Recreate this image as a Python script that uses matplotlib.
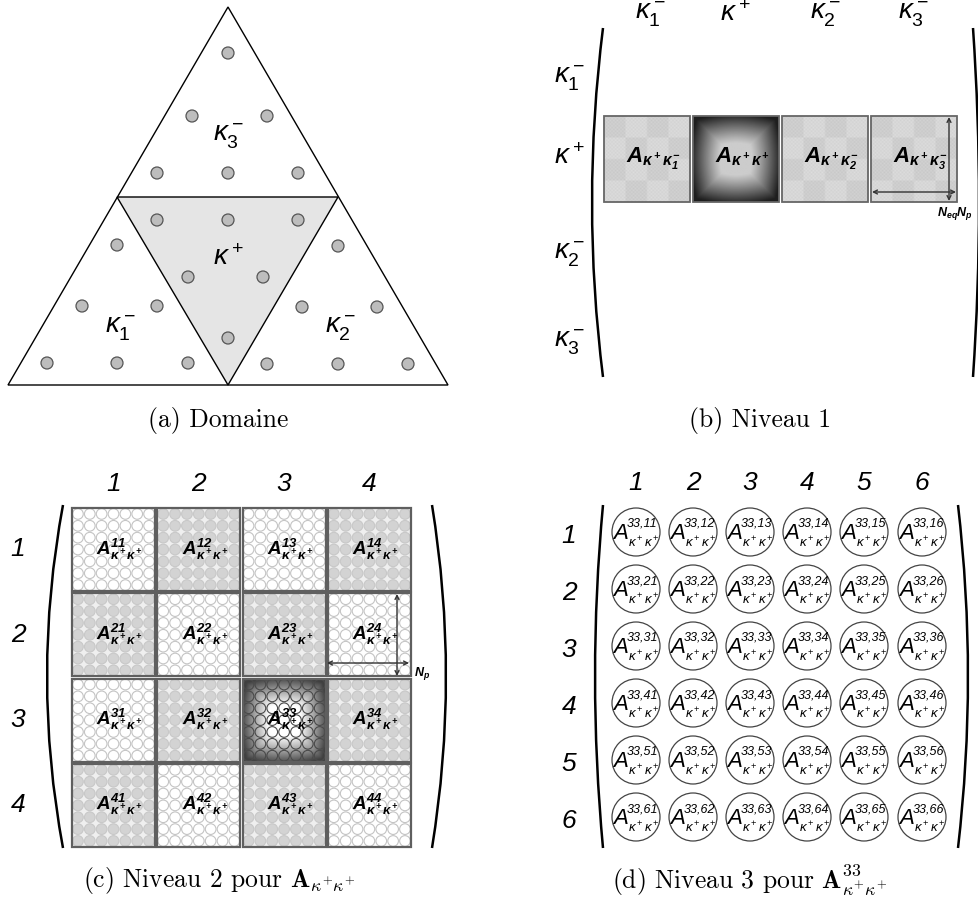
import numpy as np
import matplotlib
matplotlib.use("Agg")
import matplotlib.pyplot as plt
from matplotlib.patches import Polygon, Circle, Rectangle, PathPatch
from matplotlib.path import Path

# --- content -------------------------------------------------------------
DOMAIN_LABELS = [r"$\kappa_3^-$", r"$\kappa^+$", r"$\kappa_1^-$", r"$\kappa_2^-$"]
LEVEL1_NAMES = [r"$\kappa_1^-$", r"$\kappa^+$", r"$\kappa_2^-$", r"$\kappa_3^-$"]
LEVEL1_BLOCKS = [r"$\mathbf{A_{\kappa^+\kappa_1^-}}$", r"$\mathbf{A_{\kappa^+\kappa^+}}$",
                 r"$\mathbf{A_{\kappa^+\kappa_2^-}}$", r"$\mathbf{A_{\kappa^+\kappa_3^-}}$"]
LEVEL1_SHADES = ["check", "dark", "check", "check"]
LEVEL2_IDX = ["1", "2", "3", "4"]
LEVEL2_SHADES = [["white", "gray", "white", "gray"],
                 ["gray", "white", "gray", "white"],
                 ["white", "gray", "dark", "gray"],
                 ["gray", "white", "gray", "white"]]
LEVEL3_IDX = ["1", "2", "3", "4", "5", "6"]
CAPTIONS = ["(a) Domaine", "(b) Niveau 1",
            r"(c) Niveau 2 pour $\mathbf{A}_{\kappa^{+}\kappa^{+}}$",
            r"(d) Niveau 3 pour $\mathbf{A}^{33}_{\kappa^{+}\kappa^{+}}$"]

plt.rcParams["font.family"] = ["Liberation Sans", "DejaVu Sans"]
plt.rcParams["mathtext.fontset"] = "custom"
plt.rcParams["mathtext.rm"] = "Liberation Sans"
plt.rcParams["mathtext.it"] = "Liberation Sans:italic"
plt.rcParams["mathtext.bf"] = "Liberation Sans:italic:bold"

W, H = 979, 911
fig = plt.figure(figsize=(W / 100, H / 100), dpi=100)
ax = fig.add_axes([0, 0, 1, 1])
ax.set_xlim(0, W)
ax.set_ylim(H, 0)
ax.axis("off")


def bracket(x_end, x_mid, y0, y1):
    ctrl = 2 * x_mid - x_end
    path = Path([(x_end, y0), (ctrl, (y0 + y1) / 2), (x_end, y1)],
                [Path.MOVETO, Path.CURVE3, Path.CURVE3])
    ax.add_patch(PathPatch(path, fc="none", ec="black", lw=1.8, clip_on=False))


def dbl_arrow(p0, p1):
    ax.annotate("", xy=p1, xytext=p0,
                arrowprops=dict(arrowstyle="<->", color="#333333", lw=1.0,
                                shrinkA=0, shrinkB=0, mutation_scale=7))


def dark_texture(n, lo, hi):
    u = np.linspace(-1, 1, n)
    xx, yy = np.meshgrid(u, u)
    d = 0.6 * np.maximum(np.abs(xx), np.abs(yy)) + 0.4 * np.hypot(xx, yy) / np.sqrt(2) * 1.2
    return hi - (hi - lo) * np.clip((d - 0.35) / 0.65, 0, 1) ** 1.1


def check_texture(n):
    i, j = np.indices((n, n))
    return 0.78 + 0.04 * ((i // (n // 4) + j // (n // 4)) % 2) + 0.05 * ((i + j) % 2)


# --- (a) domain ----------------------------------------------------------
A0, B0, C0 = (8, 385), (448, 385), (228, 7)
M1, M2, M3 = (117, 197), (338, 197), (228, 385)
ax.add_patch(Polygon([A0, B0, C0], closed=True, fc="white", ec="black", lw=1.0))
ax.add_patch(Polygon([M1, M2, M3], closed=True, fc="#e5e5e5", ec="black", lw=1.0))
dots = [(228, 53), (192, 116), (267, 116), (157, 173), (228, 173), (298, 173),
        (157, 220), (228, 220), (298, 220), (188, 277), (263, 277), (228, 338),
        (117, 245), (82, 306), (157, 306), (47, 363), (117, 363), (188, 363),
        (338, 246), (302, 307), (377, 307), (267, 364), (338, 364), (408, 364)]
for (x, y) in dots:
    ax.add_patch(Circle((x, y), 6, fc="#bdbdbd", ec="#555555", lw=0.9))
for lab, (x, y) in zip(DOMAIN_LABELS, [(228, 136), (228, 258), (120, 327), (340, 327)]):
    ax.text(x, y, lab, fontsize=20, ha="center", va="center")

# --- (b) level 1 ---------------------------------------------------------
for lab, x in zip(LEVEL1_NAMES, [650, 735, 825, 913]):
    ax.text(x, 14, lab, fontsize=20, ha="center", va="center")
for lab, y in zip(LEVEL1_NAMES, [77, 157, 253, 342]):
    ax.text(569, y, lab, fontsize=20, ha="center", va="center")
bracket(603, 592, 28, 377)
bracket(973, 979, 28, 377)
bx = [604, 693, 782, 871]
for x0, lab, shade in zip(bx, LEVEL1_BLOCKS, LEVEL1_SHADES):
    img = dark_texture(80, 0.12, 0.80) if shade == "dark" else check_texture(48)
    ax.imshow(img, cmap="gray", vmin=0, vmax=1, extent=(x0, x0 + 86, 202, 116),
              interpolation="bilinear", zorder=1)
    ax.add_patch(Rectangle((x0, 116), 86, 86, fc="none", ec="#666666", lw=1.3, zorder=2))
    ax.text(x0 + 22, 162, lab, fontsize=16, ha="left", va="baseline", zorder=3)
ax.set_xlim(0, W)
ax.set_ylim(H, 0)
dbl_arrow((949, 117), (949, 201))
dbl_arrow((872, 192), (956, 192))
ax.text(937, 216, r"$\mathbf{N_{eq}N_p}$", fontsize=9, ha="left", va="baseline")

# --- (c) level 2 ---------------------------------------------------------
pitch, size = 85.3, 83
for k, lab in enumerate(LEVEL2_IDX):
    ax.text(72 + k * pitch + size / 2, 484, lab, fontsize=19, style="italic",
            ha="center", va="center")
    ax.text(18, 508 + k * pitch + size / 2, lab, fontsize=19, style="italic",
            ha="center", va="center")
bracket(63, 47, 505, 848)
bracket(432, 446, 505, 848)
nc = 7
step = size / nc
for i in range(4):
    for j in range(4):
        x0 = 72 + j * pitch
        y0 = 508 + i * pitch
        shade = LEVEL2_SHADES[i][j]
        if shade == "dark":
            ax.imshow(dark_texture(80, 0.25, 1.0), cmap="gray", vmin=0, vmax=1,
                      extent=(x0, x0 + size, y0 + size, y0), interpolation="bilinear", zorder=1)
            fc, ec = "none", "#4a4a4a"
        elif shade == "gray":
            ax.add_patch(Rectangle((x0, y0), size, size, fc="#efefef", ec="none", zorder=1))
            fc, ec = "#d3d3d3", "#c8c8c8"
        else:
            ax.add_patch(Rectangle((x0, y0), size, size, fc="white", ec="none", zorder=1))
            fc, ec = "white", "#c4c4c4"
        for a in range(nc):
            for b in range(nc):
                ax.add_patch(Circle((x0 + (b + 0.5) * step, y0 + (a + 0.5) * step), step / 2 - 0.6,
                                    fc=fc, ec=ec, lw=0.8, zorder=2))
        ax.add_patch(Rectangle((x0, y0), size, size, fc="none", ec="#5f5f5f", lw=1.6, zorder=3))
        ax.text(x0 + size / 2 - 17, y0 + size / 2 + 5,
                r"$\mathbf{A^{%d%d}_{\kappa^+\kappa^+}}$" % (i + 1, j + 1),
                fontsize=13.5, ha="left", va="baseline", zorder=4)
ax.set_xlim(0, W)
ax.set_ylim(H, 0)
dbl_arrow((397, 594), (397, 676))
dbl_arrow((327, 663), (409, 663))
ax.text(414, 676, r"$\mathbf{N_p}$", fontsize=9, ha="left", va="baseline")

# --- (d) level 3 ---------------------------------------------------------
cxs = [636, 693, 750, 807, 864, 922]
cys = [532, 589, 646, 703, 760, 817]
for lab, x in zip(LEVEL3_IDX, cxs):
    ax.text(x, 483, lab, fontsize=19, style="italic", ha="center", va="center")
for lab, y in zip(LEVEL3_IDX, cys):
    ax.text(569, y + 4, lab, fontsize=19, style="italic", ha="center", va="center")
bracket(603, 595, 505, 848)
bracket(958, 968, 505, 848)
for i, cy in enumerate(cys):
    for j, cx in enumerate(cxs):
        ax.add_patch(Circle((cx, cy), 24, fc="white", ec="#444444", lw=0.9))
        ax.text(cx - 15.5, cy + 7, "A", fontsize=16, style="italic", ha="center", va="baseline")
        ax.text(cx - 9, cy - 5, "33,%d%d" % (i + 1, j + 1), fontsize=9, style="italic",
                ha="left", va="baseline")
        ax.text(cx - 8, cy + 11, r"$\kappa^+\kappa^+$", fontsize=9.5, ha="left", va="center")

# --- captions ------------------------------------------------------------
for cap, (x, y) in zip(CAPTIONS, [(218, 421), (760, 421), (219, 880), (750, 880)]):
    ax.text(x, y, cap, fontsize=18.4, family="cmr10", math_fontfamily="cm",
            ha="center", va="center")

fig.savefig("out.png", dpi=100)
